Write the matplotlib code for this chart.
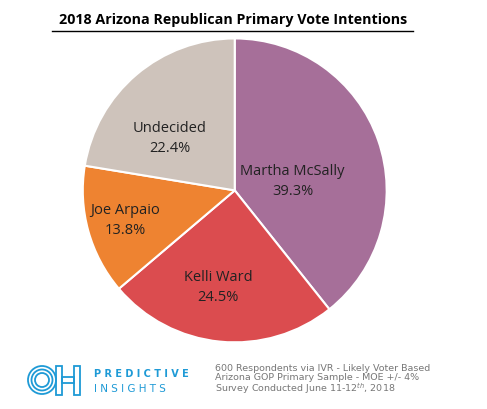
import matplotlib.pyplot as plt
from matplotlib.patches import Circle, Rectangle

names = ["Martha McSally", "Kelli Ward", "Joe Arpaio", "Undecided"]
shares = [39.3, 24.5, 13.8, 22.4]
colors = ["#A66F99", "#DB4C4F", "#EE8331", "#CEC3BB"]
# label centres in pie units (radius = 1)
label_pos = [(0.38, 0.06), (-0.11, -0.64), (-0.72, -0.2), (-0.43, 0.34)]

fig = plt.figure(figsize=(4.87, 4.09), dpi=100)
ax = fig.add_axes([0.170, 0.163, 0.624, 0.743])
ax.pie(shares, colors=colors, startangle=90, counterclock=False,
       wedgeprops=dict(edgecolor="white", linewidth=1.5))
for n, s, (x, y) in zip(names, shares, label_pos):
    ax.text(x, y, f"{n}\n{s}%", ha="center", va="center", fontsize=10.5,
            color="#222222", family="Open Sans", linespacing=1.45)
ax.set_xlim(-1, 1)
ax.set_ylim(-1, 1)
ax.set_aspect("equal")

fig.text(0.478, 0.952, "2018 Arizona Republican Primary Vote Intentions",
         ha="center", va="center", fontsize=10.3, fontweight="bold",
         family="Open Sans")
# underline
fig.add_artist(plt.Line2D([0.107, 0.849], [0.925, 0.925], color="black", lw=1))

# logo
W, H = 487, 409
blue = "#1E9AD6"
lax = fig.add_axes([0, 0, 1, 1], facecolor="none")
lax.set_xlim(0, W)
lax.set_ylim(H, 0)
lax.axis("off")
for r in (14, 10.5, 7):
    lax.add_patch(Circle((42, 380), r, fill=False, ec=blue, lw=1.3))
for x0 in (56, 74):
    lax.add_patch(Rectangle((x0, 366), 6, 29, fill=False, ec=blue, lw=1.3))
lax.add_patch(Rectangle((62, 377), 12, 6, fill=False, ec=blue, lw=1.3))
lax.text(94, 374, "P R E D I C T I V E", color=blue, fontsize=7,
         fontweight="bold", va="center")
lax.text(94, 389, "I N S I G H T S", color=blue, fontsize=7.5, va="center")
lax.text(215, 380, "600 Respondents via IVR - Likely Voter Based\n"
         "Arizona GOP Primary Sample - MOE +/- 4%\n"
         "Survey Conducted June 11-12$^{th}$, 2018",
         color="#777777", fontsize=6.8, va="center", linespacing=0.95)

fig.savefig("out.png", dpi=100)
